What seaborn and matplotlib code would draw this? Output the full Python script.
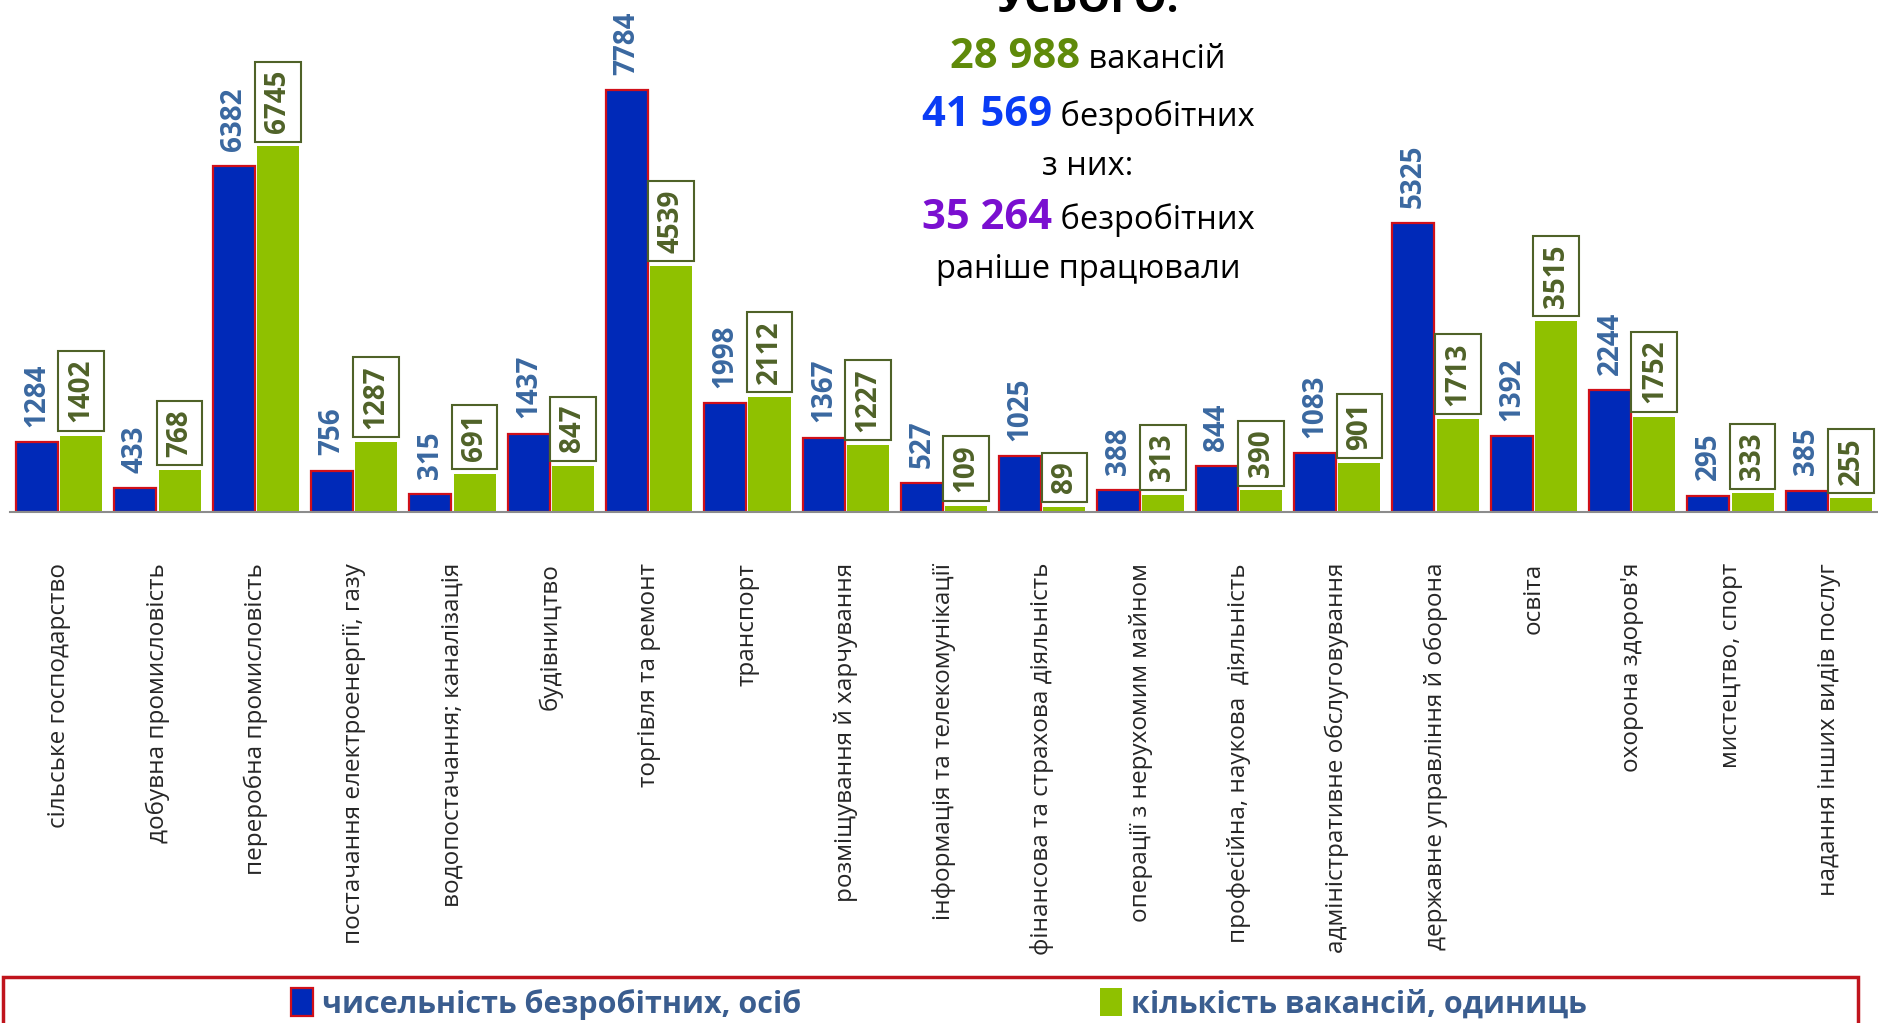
import numpy as np
import pandas as pd
import seaborn as sns
import matplotlib.pyplot as plt
from matplotlib.patches import Rectangle, Patch

# Data
categories = ['сільське господарство', 'добувна промисловість', 'переробна промисловість',
              'постачання електроенергії, газу', 'водопостачання; каналізація', 'будівництво',
              'торгівля та ремонт', 'транспорт', 'розміщування й харчування',
              'інформація та телекомунікації', 'фінансова та страхова діяльність',
              'операції з нерухомим майном', 'професійна, наукова  діяльність',
              'адміністративне обслуговування', 'державне управління й оборона', 'освіта',
              "охорона здоров'я", 'мистецтво, спорт', 'надання інших видів послуг']
unemployed = [1284, 433, 6382, 756, 315, 1437, 7784, 1998, 1367, 527, 1025, 388, 844,
              1083, 5325, 1392, 2244, 295, 385]
vacancies = [1402, 768, 6745, 1287, 691, 847, 4539, 2112, 1227, 109, 89, 313, 390,
             901, 1713, 3515, 1752, 333, 255]
series_names = ['чисельність безробітних, осіб', 'кількість вакансій, одиниць']

# Long-form table for seaborn
df = pd.DataFrame({
    'cat': categories * 2,
    'value': unemployed + vacancies,
    'series': [series_names[0]] * len(categories) + [series_names[1]] * len(categories),
})

sns.set_style('white')
plt.rcParams['font.family'] = ['Open Sans', 'DejaVu Sans']

BLUE = '#0029b8'
GREEN = '#8fc100'
BLUE_TXT = '#3a68a0'
OLIVE = '#4f6228'
LEG_TXT = '#3a5d8f'

fig = plt.figure(figsize=(18.78, 10.23), dpi=100)
ax = fig.add_axes([10 / 1878, 0.5, 1 - 10 / 1878, 0.5])

sns.barplot(data=df, x='cat', y='value', hue='series', order=categories,
            hue_order=series_names, palette=[BLUE, GREEN], width=0.9, gap=0.05,
            saturation=1, legend=False, ax=ax)

for p in ax.containers[0]:
    p.set_edgecolor('#d0101a')
    p.set_linewidth(1.6)
for p in ax.containers[1]:
    p.set_edgecolor('none')

ax.set_xlim(-0.5, len(categories) - 0.5)
ax.set_ylim(0, 9450)
ax.set_xlabel('')
ax.set_ylabel('')
ax.set_yticks([])
for s in ['top', 'right', 'left']:
    ax.spines[s].set_visible(False)
ax.spines['bottom'].set_color('#8c8c8c')
ax.spines['bottom'].set_linewidth(1.5)

ax.set_xticks(range(len(categories)))
ax.set_xticklabels(categories, rotation=90, fontsize=17.5, va='top', ha='center')
ax.tick_params(axis='x', which='major', length=0, pad=37)
ax.set_xticks(np.arange(-0.5, len(categories), 1), minor=True)
ax.tick_params(axis='x', which='minor', length=9, width=1.5, color='#8c8c8c')

# Value labels
for p, v in zip(ax.containers[0], unemployed):
    ax.annotate(str(v), (p.get_x() + p.get_width() / 2, p.get_height()),
                xytext=(0, 11), textcoords='offset points', rotation=90,
                ha='center', va='bottom', fontsize=20, fontweight='bold', color=BLUE_TXT)
for p, v in zip(ax.containers[1], vacancies):
    ax.annotate(str(v), (p.get_x() + p.get_width() / 2, p.get_height()),
                xytext=(0, 9.5), textcoords='offset points', rotation=90,
                ha='center', va='bottom', fontsize=20, fontweight='bold', color=OLIVE,
                bbox=dict(boxstyle='square,pad=0.3', fc='white', ec=OLIVE, lw=1.5))

# Summary text block
renderer = fig.canvas.get_renderer()
cx = 1088 / 1878


def mixed_line(y, parts):
    texts = []
    for s, col, w, fs in parts:
        texts.append(fig.text(0, y, s, color=col, fontweight=w, fontsize=fs,
                              ha='left', va='baseline'))
    widths = [t.get_window_extent(renderer).width for t in texts]
    total = sum(widths)
    x0 = cx * fig.bbox.width - total / 2
    for t, w in zip(texts, widths):
        t.set_x(x0 / fig.bbox.width)
        x0 += w


mixed_line(1 - 12 / 1023, [('УСЬОГО:', 'black', 'bold', 30)])
mixed_line(1 - 68 / 1023, [('28 988', '#5f8a0a', 'bold', 30), (' вакансій', 'black', 'normal', 23.5)])
mixed_line(1 - 126 / 1023, [('41 569', '#0a3cf5', 'bold', 30), (' безробітних', 'black', 'normal', 23.5)])
mixed_line(1 - 175 / 1023, [('з них:', 'black', 'normal', 23.5)])
mixed_line(1 - 229 / 1023, [('35 264', '#7a0fd0', 'bold', 30), (' безробітних', 'black', 'normal', 23.5)])
mixed_line(1 - 278 / 1023, [('раніше працювали', 'black', 'normal', 23.5)])

# Legend box
fig.patches.append(Rectangle((3 / 1878, -0.02), 1855 / 1878, 0.065, transform=fig.transFigure,
                             fill=False, ec='#c0141c', lw=2.5))
handles = [Patch(fc=BLUE, ec='#d0101a', lw=1.6), Patch(fc=GREEN, ec='none')]
fig.legend(handles, series_names, loc='center', bbox_to_anchor=(0.5, 1 - 1004 / 1023),
           ncol=2, frameon=False, handlelength=0.7, handleheight=1.0, handletextpad=0.3,
           columnspacing=9.8, prop={'weight': 'bold', 'size': 22}, labelcolor=LEG_TXT)

fig.savefig('out.png', dpi=100)
